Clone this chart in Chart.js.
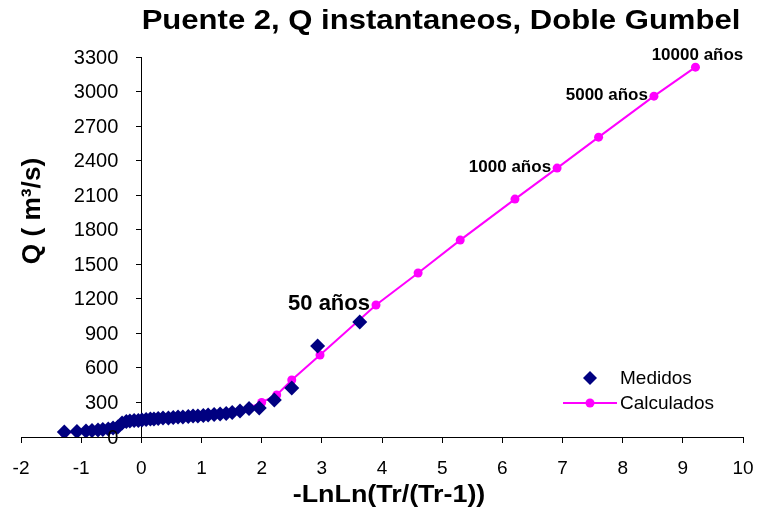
<!DOCTYPE html>
<html>
<head>
<meta charset="utf-8">
<script src="https://cdn.jsdelivr.net/npm/chart.js@4.4.0/dist/chart.umd.min.js"></script>
<style>
html, body { margin: 0; padding: 0; background: #fff; }
#wrap { width: 757px; height: 512px; }
</style>
</head>
<body>
<div id="wrap"><canvas id="myChart"></canvas></div>
<script>
var titleText = 'Puente 2, Q instantaneos, Doble Gumbel';
var xTitle = '-LnLn(Tr/(Tr-1))';
var yTitle = 'Q ( m\u00b3/s)';
var seriesNames = ['Medidos', 'Calculados'];

// measured floods (reduced variate, m3/s)
var medidosX = [-1.28, -1.07, -0.92, -0.82, -0.72, -0.64, -0.55, -0.47, -0.39, -0.32, -0.25, -0.19, -0.12, -0.05, 0.01, 0.08, 0.15, 0.21, 0.28, 0.36, 0.45, 0.53, 0.61, 0.69, 0.78, 0.86, 0.94, 1.03, 1.11, 1.21, 1.31, 1.41, 1.51, 1.64, 1.79, 1.96, 2.21, 2.50, 2.93, 3.63];
var medidosQ = [43, 48, 52, 56, 61, 65, 69, 78, 87, 122, 135, 139, 143, 143, 148, 152, 156, 156, 161, 165, 165, 169, 174, 174, 178, 182, 182, 187, 191, 195, 200, 204, 213, 226, 247, 252, 321, 425, 790, 998];

// fitted double gumbel
var calcX = [-1.28, -0.9, -0.5, -0.32, 0, 0.5, 1.0, 1.5, 1.8, 2.0, 2.25, 2.5, 2.97, 3.90, 4.60, 5.30, 6.21, 6.91, 7.60, 8.52, 9.21];
var calcQ = [35, 55, 80, 115, 140, 160, 180, 215, 255, 300, 365, 495, 712, 1146, 1424, 1710, 2066, 2335, 2604, 2960, 3212];

// return period labels on the fitted curve
var periodX = [3.90, 6.91, 8.52, 9.21];
var periodText = ['50 a\u00f1os', '1000 a\u00f1os', '5000 a\u00f1os', '10000 a\u00f1os'];

var xTicks = [-2, -1, 0, 1, 2, 3, 4, 5, 6, 7, 8, 9, 10];
var yTicks = [0, 300, 600, 900, 1200, 1500, 1800, 2100, 2400, 2700, 3000, 3300];

function toPoints(xs, ys) {
    var out = [];
    for (var i = 0; i < xs.length; i++) out.push({x: xs[i], y: ys[i]});
    return out;
}

var FONT = "'Liberation Sans', Arial, sans-serif";
Chart.defaults.font.family = FONT;
Chart.defaults.color = '#000';

// stretched text, like the original export
function wideText(c, txt, x, y, sx) {
    c.save();
    c.translate(x, y);
    c.scale(sx, 1);
    c.fillText(txt, 0, 0);
    c.restore();
}

var extras = {
    id: 'extras',
    afterDraw: function(chart) {
        var c = chart.ctx;
        var xs = chart.scales.x, ys = chart.scales.y;
        c.save();
        c.fillStyle = '#000';
        c.textAlign = 'center';
        c.textBaseline = 'middle';

        // title
        c.font = 'bold 27px ' + FONT;
        wideText(c, titleText, 441, 22, 1.15);

        // x axis title
        c.font = 'bold 24px ' + FONT;
        wideText(c, xTitle, 389, 495, 1.12);

        // y axis title
        c.save();
        c.translate(33, 211);
        c.rotate(-Math.PI / 2);
        c.font = 'bold 25px ' + FONT;
        wideText(c, yTitle, 0, 0, 1.05);
        c.restore();

        // y tick labels, left of the axis crossing x = 0
        c.font = '20px ' + FONT;
        c.textAlign = 'right';
        var axisX = xs.getPixelForValue(0);
        for (var t = 0; t < yTicks.length; t++) {
            c.fillText(String(yTicks[t]), axisX - 23, ys.getPixelForValue(yTicks[t]) + 1);
        }

        // return period labels
        var meta = chart.getDatasetMeta(1);
        for (var k = 0; k < periodX.length; k++) {
            var idx = calcX.indexOf(periodX[k]);
            var pt = meta.data[idx];
            c.textBaseline = 'middle';
            if (k == 0) {
                c.font = 'bold 22px ' + FONT;
                c.textAlign = 'right';
                c.fillText(periodText[k], pt.x - 6, pt.y - 1);
            } else if (k == periodX.length - 1) {
                c.font = 'bold 17px ' + FONT;
                c.textAlign = 'center';
                c.fillText(periodText[k], pt.x + 2, pt.y - 12);
            } else {
                c.font = 'bold 17px ' + FONT;
                c.textAlign = 'right';
                c.fillText(periodText[k], pt.x - 6, pt.y - 1);
            }
        }

        // legend
        c.font = '19px ' + FONT;
        c.textAlign = 'left';
        c.textBaseline = 'middle';
        c.fillStyle = '#000080';
        c.beginPath();
        c.moveTo(590, 371); c.lineTo(597, 378); c.lineTo(590, 385); c.lineTo(583, 378);
        c.closePath();
        c.fill();
        c.fillStyle = '#000';
        c.fillText(seriesNames[0], 620, 379);

        c.strokeStyle = '#ff00ff';
        c.lineWidth = 2;
        c.beginPath();
        c.moveTo(563, 403); c.lineTo(617, 403);
        c.stroke();
        c.fillStyle = '#ff00ff';
        c.beginPath();
        c.arc(590, 403, 4.5, 0, Math.PI * 2);
        c.fill();
        c.fillStyle = '#000';
        c.fillText(seriesNames[1], 620, 404);
        c.restore();
    }
};

var myChart = new Chart(document.getElementById('myChart').getContext('2d'), {
    type: 'scatter',
    data: {
        datasets: [{
            label: seriesNames[0],
            data: toPoints(medidosX, medidosQ),
            pointStyle: 'rectRot',
            pointRadius: 7.5,
            pointHoverRadius: 7.5,
            backgroundColor: '#000080',
            borderColor: '#000080',
            borderWidth: 0,
            showLine: false
        }, {
            label: seriesNames[1],
            data: toPoints(calcX, calcQ),
            pointStyle: 'circle',
            pointRadius: 4.5,
            pointHoverRadius: 4.5,
            backgroundColor: '#ff00ff',
            borderColor: '#ff00ff',
            borderWidth: 2,
            pointBorderWidth: 0,
            showLine: true,
            tension: 0
        }]
    },
    options: {
        responsive: true,
        maintainAspectRatio: false,
        animation: false,
        layout: { padding: { left: 21, right: 14, top: 57, bottom: 75 } },
        plugins: {
            legend: { display: false },
            tooltip: { enabled: false },
            title: { display: false }
        },
        scales: {
            x: {
                type: 'linear',
                position: { y: 0 },
                min: -2, max: 10,
                afterBuildTicks: function(s) { s.ticks = xTicks.map(function(v) { return {value: v}; }); },
                afterFit: function(s) { s.paddingLeft = 0; s.paddingRight = 0; },
                grid: { drawOnChartArea: false, drawTicks: true, tickLength: 5, color: '#000' },
                border: { display: true, color: '#000', width: 1 },
                ticks: { font: { size: 19 }, padding: 15, maxRotation: 0 }
            },
            y: {
                type: 'linear',
                position: { x: 0 },
                min: 0, max: 3300,
                afterBuildTicks: function(s) { s.ticks = yTicks.map(function(v) { return {value: v}; }); },
                afterFit: function(s) { s.paddingTop = 0; s.paddingBottom = 0; },
                grid: { drawOnChartArea: false, drawTicks: true, tickLength: 5, color: '#000' },
                border: { display: true, color: '#000', width: 1 },
                ticks: { display: false }
            }
        }
    },
    plugins: [extras]
});
</script>
</body>
</html>
